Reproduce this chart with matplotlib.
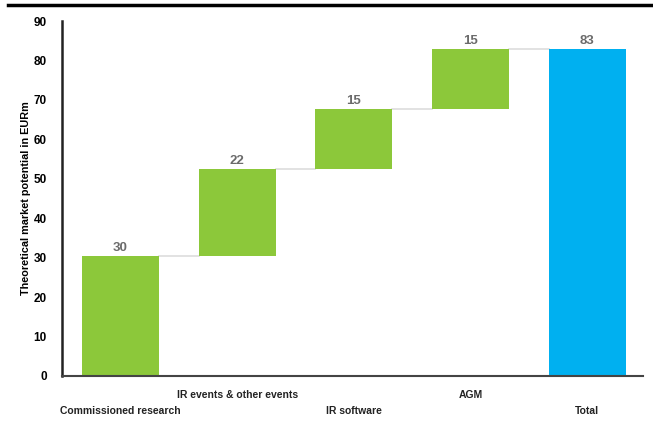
import numpy as np
import matplotlib
matplotlib.use("Agg")
import matplotlib.pyplot as plt
from matplotlib.lines import Line2D

categories = ["Commissioned research", "IR events & other events", "IR software", "AGM", "Total"]
increments = [30.4, 22.0, 15.2, 15.2]
labels = ["30", "22", "15", "15", "83"]

plt.rcParams['font.family'] = ['Liberation Sans', 'DejaVu Sans']

total = sum(increments)
bottoms = np.concatenate([[0], np.cumsum(increments)[:-1], [0]])
heights = np.array(increments + [total])
colors = ["#8cc83a"] * len(increments) + ["#00b0f0"]
x = np.arange(len(categories))
w = 0.66

fig = plt.figure(figsize=(6.53, 4.21), dpi=100)
ax = fig.add_axes([0.095, 0.107, 0.89, 0.843])
ax.bar(x, heights, w, bottom=bottoms, color=colors, edgecolor="none", zorder=2)

# connector lines between bars
tops = bottoms + heights
for i in range(len(categories) - 1):
    ax.plot([x[i] + w / 2, x[i + 1] - w / 2], [tops[i], tops[i]],
            color="#dddddd", lw=1.2, zorder=1)

for xi, t, lab in zip(x, tops, labels):
    ax.text(xi, t + 0.6, lab, ha="center", va="bottom", fontsize=9.5,
            fontweight="bold", color="#6b6b6b")

ax.set_xlim(-0.5, 4.48)
ax.set_ylim(0, 90)
ax.set_yticks(np.arange(0, 91, 10))
ax.tick_params(axis="y", length=0, labelsize=8.5, pad=11)
ax.tick_params(axis="x", length=0)
for t in ax.get_yticklabels():
    t.set_fontweight("bold")
ax.set_xticks([])
for i, c in enumerate(categories):
    yoff = -0.10 if i % 2 == 0 else -0.055
    ax.text(x[i], yoff, c, transform=ax.get_xaxis_transform(), ha="center",
            va="center", fontsize=7.5, fontweight="bold", color="#222222")

ax.spines["top"].set_visible(False)
ax.spines["right"].set_visible(False)
ax.spines["left"].set_linewidth(1.8)
ax.spines["left"].set_color("#222222")
ax.spines["bottom"].set_linewidth(1.5)
ax.spines["bottom"].set_color("#444444")
ax.set_ylabel("Theoretical market potential in EURm", fontsize=7.8,
              fontweight="bold", labelpad=2)

fig.add_artist(Line2D([0.012, 1.0], [0.988, 0.988], color="black", lw=2.5,
                      transform=fig.transFigure))

fig.savefig("out.png", dpi=100)
